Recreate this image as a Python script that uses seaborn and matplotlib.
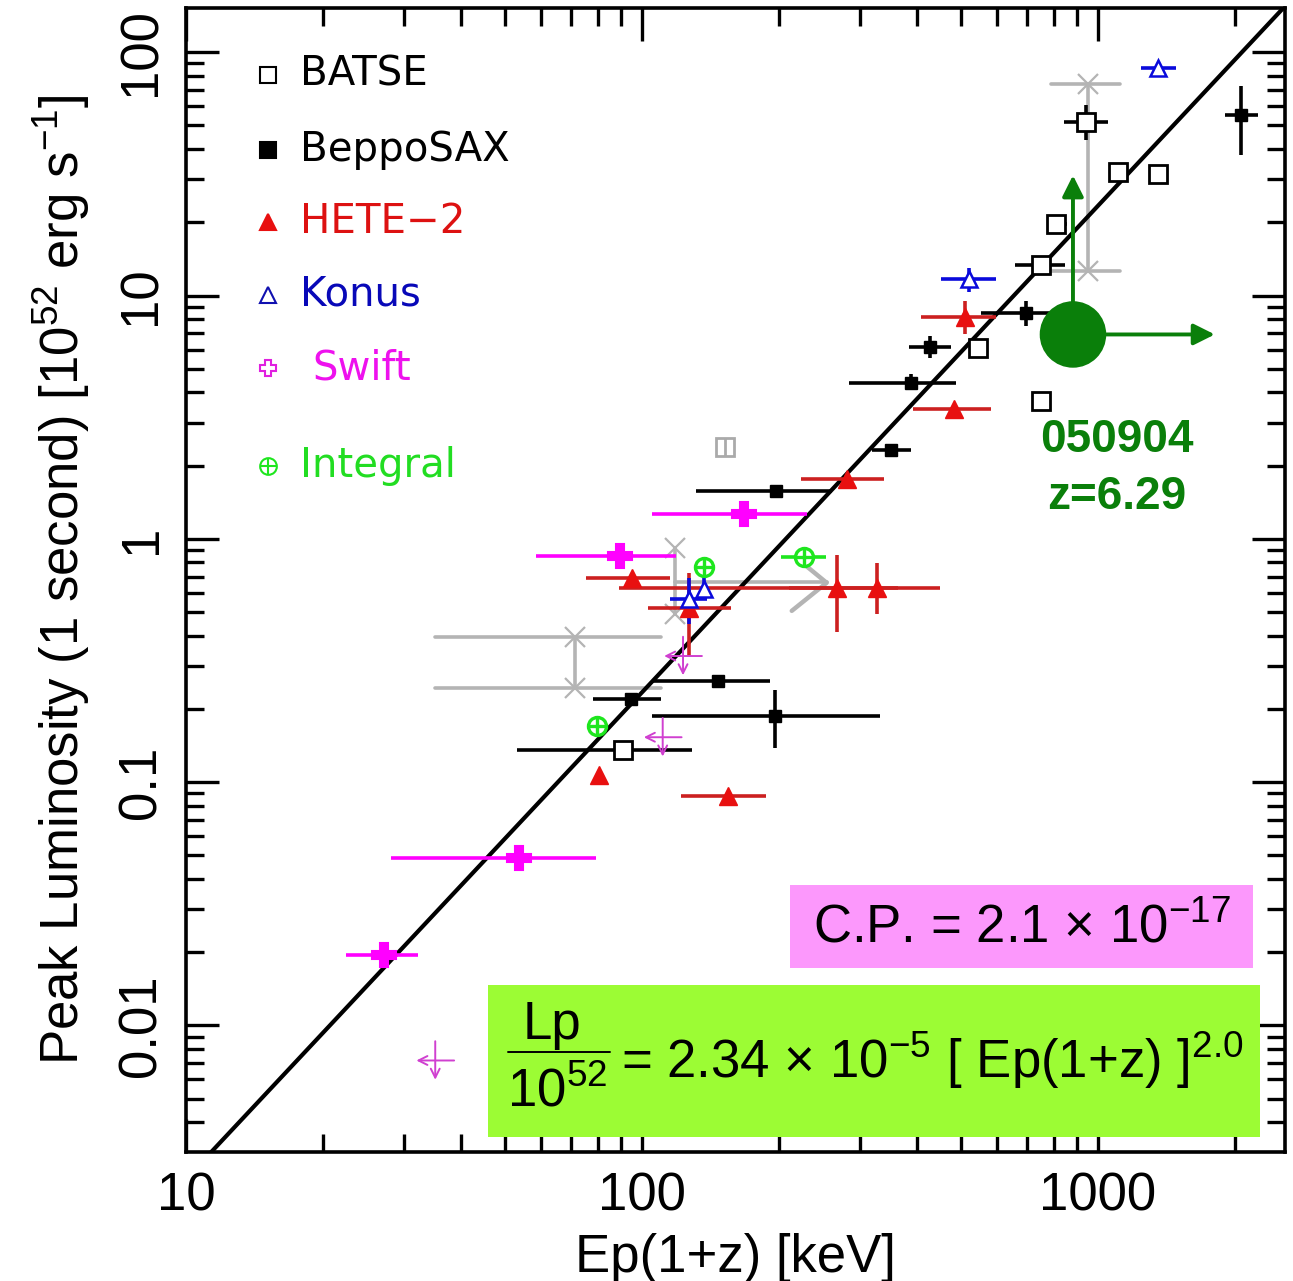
import numpy as np
import matplotlib
matplotlib.use("Agg")
import matplotlib.pyplot as plt
import seaborn as sns
from matplotlib.patches import Rectangle
from matplotlib.lines import Line2D
from matplotlib.ticker import LogLocator, NullFormatter

nan = np.nan

# ---------------- data ----------------
# BATSE (open squares)
batse_ep    = [942, 1106, 1352, 809, 750, 546, 750, 90.8]
batse_lp    = [51.5, 32.1, 31.5, 19.6, 13.3, 6.1, 3.70, 0.136]
batse_ep_lo = [843, 1075, 1300, 773, 658, 530, 728, 53.2]
batse_ep_hi = [1052, 1140, 1400, 855, 847, 565, 773, 129]
batse_lp_lo = [43.4, nan, nan, nan, nan, nan, 3.48, 0.127]
batse_lp_hi = [60.6, nan, nan, nan, nan, nan, 3.93, 0.146]
batse_faded_ep = [152]
batse_faded_lp = [2.39]

# BeppoSAX (filled squares)
sax_ep    = [2056, 695, 429, 388, 352, 197, 147, 94.6, 196]
sax_lp    = [55.1, 8.51, 6.12, 4.39, 2.32, 1.58, 0.261, 0.220, 0.187]
sax_ep_lo = [1897, 555, 384, 285, 320, 131, 105, 78.2, 105]
sax_ep_hi = [2240, 789, 477, 489, 388, 261, 191, 110, 333]
sax_lp_lo = [37.7, 7.53, 5.56, 4.14, nan, nan, nan, nan, 0.138]
sax_lp_hi = [72.5, 9.53, 6.84, 4.78, nan, nan, nan, nan, 0.239]

# HETE-2 (filled triangles)
hete_ep    = [512, 482, 281, 95.1, 267, 327, 127, 80.5, 154]
hete_lp    = [8.20, 3.43, 1.77, 0.692, 0.628, 0.63, 0.520, 0.107, 0.0875]
hete_ep_lo = [408, 392, 223, 75.4, 89.1, 210, 103, nan, 122]
hete_ep_hi = [598, 583, 339, 115, 365, 451, 157, nan, 187]
hete_lp_lo = [6.92, nan, nan, nan, 0.414, 0.491, 0.331, nan, nan]
hete_lp_hi = [9.53, nan, nan, nan, 0.859, 0.796, 0.724, nan, nan]

# Konus (open triangles)
konus_ep    = [1352, 520, 127, 137]
konus_lp    = [85.9, 11.7, 0.566, 0.622]
konus_ep_lo = [1241, 453, 115, nan]
konus_ep_hi = [1482, 596, 139, nan]
konus_lp_lo = [nan, 10.3, 0.447, 0.571]
konus_lp_hi = [nan, 13.0, 0.692, 0.688]

# Swift (open crosses)
swift_ep    = [167, 89.5, 53.6, 27.2]
swift_lp    = [1.27, 0.851, 0.0486, 0.0194]
swift_ep_lo = [105, 58.6, 28.1, 22.4]
swift_ep_hi = [230, 119, 79.3, 32.2]
swift_lim_ep = [123, 111, 35.2]
swift_lim_lp = [0.330, 0.153, 0.00718]

# Integral (circled crosses)
integral_ep    = [226, 137, 79.7]
integral_lp    = [0.843, 0.767, 0.170]
integral_ep_lo = [202, nan, nan]
integral_ep_hi = [253, nan, nan]

# grey ranges
grey_ep    = [951, 118, 71.3]
grey_lp_lo = [12.6, 0.491, 0.244]
grey_lp_hi = [73.8, 0.918, 0.395]
grey_ep_lo = [789, nan, 35.2]
grey_ep_hi = [1117, nan, 110]
grey_line_ep = [118, 254]
grey_line_lp = [0.665, 0.665]
grey_chevron_ep = [226, 254, 213]
grey_chevron_lp = [0.79, 0.66, 0.506]

# GRB 050904
grb_ep, grb_lp = 881, 6.92
grb_lp_arrow, grb_ep_arrow = 31.2, 1803

# fit line  Lp = 2.34e-5 Ep^2
fit_ep = [10, 2600]
fit_lp = [0.00234, 158.2]

legend_names = ["BATSE", "BeppoSAX", "HETE\u22122", "Konus", "Swift", "Integral"]

# ---------------- style ----------------
sns.set_theme(style="ticks")
plt.rcParams['font.family'] = ['Liberation Sans Narrow', 'Liberation Sans', 'DejaVu Sans']
plt.rcParams['text.color'] = 'black'
plt.rcParams['axes.labelcolor'] = 'black'
plt.rcParams['mathtext.fontset'] = 'custom'
plt.rcParams['mathtext.rm'] = 'Liberation Sans'
plt.rcParams['mathtext.it'] = 'Liberation Sans:italic'
plt.rcParams['mathtext.bf'] = 'Liberation Sans:bold'

RED = '#e81010'
DRED = '#cc2020'
BLUE = '#0a0adc'
MAG = '#ff00ff'
MAG_L = '#d040d0'
GRN = '#1ee61e'
GREY = '#b4b4b4'
DGREEN = '#0a7f0a'

W, H = 1293, 1281
fig = plt.figure(figsize=(W / 100, H / 100), dpi=100)
ax = fig.add_axes([186 / W, 129 / H, 1099 / W, 1144 / H])
ax.set_xscale('log')
ax.set_yscale('log')


def errs(v, lo, hi):
    v = np.asarray(v, float)
    lo = np.asarray(lo, float)
    hi = np.asarray(hi, float)
    return np.vstack([v - lo, hi - v])


# grey ranges
for x, ylo, yhi, xlo, xhi in zip(grey_ep, grey_lp_lo, grey_lp_hi, grey_ep_lo, grey_ep_hi):
    ax.plot([x, x], [ylo, yhi], color=GREY, lw=2.6, zorder=2, solid_capstyle='butt')
    ax.plot([x, x], [ylo, yhi], ls='none', marker='x', ms=14, mew=1.6, color=GREY, zorder=2)
    if not np.isnan(xlo):
        for yy in (ylo, yhi):
            ax.plot([xlo, xhi], [yy, yy], color=GREY, lw=2.6, zorder=2)
ax.plot(grey_line_ep, grey_line_lp, color=GREY, lw=2.6, zorder=2)
ax.plot(grey_chevron_ep, grey_chevron_lp, color=GREY, lw=3.2, zorder=2)

# fit line
sns.lineplot(x=fit_ep, y=fit_lp, color='black', lw=3.0, ax=ax, zorder=3)

eb = dict(ls='none', elinewidth=2.6, capsize=0, zorder=4)
# BATSE
ax.errorbar(batse_ep, batse_lp,
            xerr=errs(batse_ep, batse_ep_lo, batse_ep_hi),
            yerr=errs(batse_lp, batse_lp_lo, batse_lp_hi),
            marker='s', ms=13, mfc='white', mec='black', mew=2.0, ecolor='black', **eb)
ax.plot(batse_faded_ep, batse_faded_lp, ls='none', marker='s', ms=13, mfc='white',
        mec='#aaaaaa', mew=2.0, zorder=4)
ax.plot(batse_faded_ep, batse_faded_lp, ls='none', marker='|', ms=13, mec='#aaaaaa', mew=2.0, zorder=4)
# BeppoSAX
ax.errorbar(sax_ep, sax_lp,
            xerr=errs(sax_ep, sax_ep_lo, sax_ep_hi),
            yerr=errs(sax_lp, sax_lp_lo, sax_lp_hi),
            marker='s', ms=9, mfc='black', mec='black', ecolor='black', **eb)
# HETE-2
ax.errorbar(hete_ep, hete_lp,
            xerr=errs(hete_ep, hete_ep_lo, hete_ep_hi),
            yerr=errs(hete_lp, hete_lp_lo, hete_lp_hi),
            marker='^', ms=13, mfc=RED, mec=RED, ecolor=DRED, **eb)
# Konus
ax.errorbar(konus_ep, konus_lp,
            xerr=errs(konus_ep, konus_ep_lo, konus_ep_hi),
            yerr=errs(konus_lp, konus_lp_lo, konus_lp_hi),
            marker='^', ms=12, mfc='white', mec=BLUE, mew=1.8, ecolor=BLUE, **eb)
# Swift
ax.errorbar(swift_ep, swift_lp,
            xerr=errs(swift_ep, swift_ep_lo, swift_ep_hi),
            marker='P', ms=17, mfc=MAG, mec=MAG, mew=1.5, ecolor=MAG, **eb)
for x, y in zip(swift_lim_ep, swift_lim_lp):
    fx, fy = 1.10, 1.20
    ax.annotate('', xy=(x / fx, y), xytext=(x * fx, y),
                arrowprops=dict(arrowstyle='->', color=MAG_L, lw=1.4, mutation_scale=16,
                                shrinkA=0, shrinkB=0), zorder=4)
    ax.annotate('', xy=(x, y / fy), xytext=(x, y * fy),
                arrowprops=dict(arrowstyle='->', color=MAG_L, lw=1.4, mutation_scale=16,
                                shrinkA=0, shrinkB=0), zorder=4)
# Integral
ax.errorbar(integral_ep, integral_lp,
            xerr=errs(integral_ep, integral_ep_lo, integral_ep_hi),
            marker='o', ms=13, mfc='white', mec=GRN, mew=2.4, ecolor=GRN, **eb)
ax.plot(integral_ep, integral_lp, ls='none', marker='+', ms=13, mec=GRN, mew=2.4, zorder=5)

# GRB 050904
sns.scatterplot(x=[grb_ep], y=[grb_lp], s=66 ** 2 / 1.9, color=DGREEN, edgecolor='none',
                ax=ax, zorder=6, legend=False)
ax.annotate('', xy=(grb_ep, grb_lp_arrow), xytext=(grb_ep, grb_lp),
            arrowprops=dict(arrowstyle='-|>', color=DGREEN, lw=2.8, mutation_scale=32,
                            shrinkA=0, shrinkB=0), zorder=6)
ax.annotate('', xy=(grb_ep_arrow, grb_lp), xytext=(grb_ep, grb_lp),
            arrowprops=dict(arrowstyle='-|>', color=DGREEN, lw=2.8, mutation_scale=32,
                            shrinkA=0, shrinkB=0), zorder=6)

# axes
ax.set_xlim(10, 2570)
ax.set_ylim(0.00302, 152)
ax.set_xticks([10, 100, 1000], ['10', '100', '1000'])
ax.set_yticks([0.01, 0.1, 1, 10, 100], ['0.01', '0.1', '1', '10', '100'])
ax.xaxis.set_minor_locator(LogLocator(base=10, subs=np.arange(2, 10)))
ax.yaxis.set_minor_locator(LogLocator(base=10, subs=np.arange(2, 10)))
ax.xaxis.set_minor_formatter(NullFormatter())
ax.yaxis.set_minor_formatter(NullFormatter())
ax.tick_params(which='both', direction='in', top=True, right=True, width=2.4, color='black')
ax.tick_params(which='major', length=24, labelsize=38, pad=14, labelcolor='black')
ax.tick_params(which='minor', length=13)
for lab in ax.get_yticklabels():
    lab.set_rotation(90)
    lab.set_va('center')
for s in ax.spines.values():
    s.set_linewidth(2.6)
    s.set_color('black')
ax.grid(False)

ax.set_xlabel('Ep(1+z) [keV]', fontsize=38, labelpad=8, color='black')
ax.set_ylabel(r'Peak Luminosity (1 second) [10$\mathregular{^{52}}$ erg s$\mathregular{^{-1}}$]',
              fontsize=38, labelpad=18, color='black')

# legend
leg_marker_x = (268 - 186) / 1099
leg_rows = [(75, 's', 'white', 'black', 'black', 0), (150, 's', 'black', 'black', 'black', 0),
            (222, '^', RED, RED, '#dd1111', 0), (295, '^', 'white', '#1010b0', '#0808b8', 0),
            (368, 'P', 'white', '#e020e0', '#ee11ee', 12), (466, 'o', 'white', GRN, '#22dd22', 0)]
for name, (py, mk, fc, ec, tc, dx) in zip(legend_names, leg_rows):
    yy = (1152 - py) / 1144
    ax.plot([leg_marker_x], [yy], transform=ax.transAxes, marker=mk, ms=12, mfc=fc, mec=ec,
            mew=1.5, ls='none', clip_on=False, zorder=7)
    if mk == 'o':
        ax.plot([leg_marker_x], [yy], transform=ax.transAxes, marker='+', ms=12, mec=ec,
                mew=1.5, ls='none', clip_on=False, zorder=7)
    ax.text((300 + dx - 186) / 1099, yy, name, transform=ax.transAxes, fontsize=29,
            family=['DejaVu Sans'], color=tc, va='center', ha='left')

# boxes
fig.patches.append(Rectangle((790 / W, (H - 968) / H), 463 / W, 83 / H, transform=fig.transFigure,
                             facecolor='#fc98fc', edgecolor='none', zorder=10))
fig.patches.append(Rectangle((488 / W, (H - 1137) / H), 772 / W, 152 / H, transform=fig.transFigure,
                             facecolor='#9cfc34', edgecolor='none', zorder=10))
fig.text(1022 / W, (H - 928) / H, 'C.P. = 2.1 \u00d7 10$\\mathregular{^{-17}}$',
         family=['Liberation Sans'], fontsize=38, color='black', ha='center', va='center', zorder=11)
fig.text(552 / W, (H - 1025) / H, 'Lp', family=['Liberation Sans'], fontsize=38, color='black',
         ha='center', va='center', zorder=11)
fig.lines.append(Line2D([508 / W, 610 / W], [(H - 1052) / H] * 2, transform=fig.transFigure,
                        color='black', lw=1.4, zorder=11))
fig.text(557 / W, (H - 1092) / H, '10$\\mathregular{^{52}}$', family=['Liberation Sans'], fontsize=38,
         color='black', ha='center', va='center', zorder=11)
fig.text(621 / W, (H - 1060) / H,
         '= 2.34 \u00d7 10$\\mathregular{^{-5}}$ [ Ep(1+z) ]$\\mathregular{^{2.0}}$',
         family=['Liberation Sans'], fontsize=38, color='black', ha='left', va='center', zorder=11)

# 050904 label
fig.text(1117 / W, (H - 440) / H, '050904', family=['Liberation Sans'], fontweight='bold',
         fontsize=33, color=DGREEN, ha='center', va='center', zorder=11)
fig.text(1117 / W, (H - 497) / H, 'z=6.29', family=['Liberation Sans'], fontweight='bold',
         fontsize=33, color=DGREEN, ha='center', va='center', zorder=11)

fig.savefig('out.png', dpi=100, facecolor='white')
